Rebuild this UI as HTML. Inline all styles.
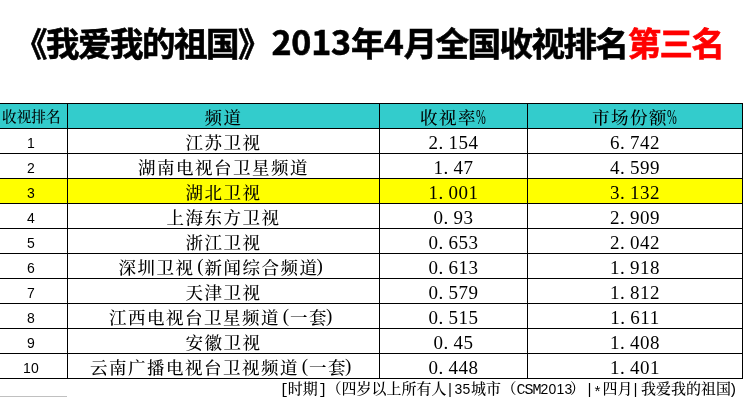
<!DOCTYPE html>
<html lang="zh-CN">
<head>
<meta charset="utf-8">
<title>《我爱我的祖国》2013年4月全国收视排名第三名</title>
<style>
html,body{margin:0;padding:0;background:#fff;}
body{width:747px;height:408px;position:relative;overflow:hidden;color:#000;
 font-family:"Liberation Serif","Noto Serif CJK SC",serif;}
.title{position:absolute;left:14px;top:21px;-webkit-text-stroke:0.6px currentColor;height:48px;line-height:48px;white-space:nowrap;
 font-family:"Liberation Sans","Noto Sans CJK SC",sans-serif;font-weight:bold;font-size:33.5px;letter-spacing:-1.5px;}
.title .n{font-family:"Noto Sans CJK SC",sans-serif;font-size:34px;letter-spacing:-0.2px;position:relative;top:-1px;line-height:0;}
.title .r{color:#f00;}
.grid{position:absolute;left:0;top:103px;width:743px;height:276px;}
.hl{position:absolute;left:0;width:743px;height:1px;background:#000;}
.vl{position:absolute;top:0;width:1px;height:276px;background:#000;}
.fill{position:absolute;left:0;width:742px;height:24px;}
.row{position:absolute;left:0;width:742px;height:24px;}
.c{position:absolute;top:0;height:24px;line-height:24px;text-align:center;white-space:nowrap;font-size:19px;}
.c1{left:-4.5px;width:71px;top:1.5px;font-size:14px;letter-spacing:0.2px;font-family:"Liberation Sans","Noto Serif CJK SC",sans-serif;}
.c2{left:68px;width:311px;}
.c3{left:380px;width:147px;letter-spacing:0.5px;}
.c4{left:528px;width:214px;letter-spacing:0.5px;}
.z{display:inline-block;font-size:17.5px;letter-spacing:1.5px;margin-left:0;transform:scaleY(0.96);transform-origin:50% 50%;position:relative;top:2.4px;font-weight:500;}
.c b.l{text-align:right;left:-1px;}
.c b.r{text-align:left;left:-2px;}
.p{display:inline-block;width:10px;text-align:left;transform:scale(0.62,1.08);transform-origin:0 50%;position:relative;top:2px;left:-0.7px;letter-spacing:0;}
.d{position:relative;top:2px;}
.c i{font-style:normal;display:inline-block;width:10px;text-align:left;letter-spacing:0;}
.c b{font-weight:normal;display:inline-block;width:10px;text-align:center;letter-spacing:0;font-size:19px;line-height:0;position:relative;top:-2px;}
.hd .c{font-family:"Liberation Serif","Noto Serif CJK SC",serif;letter-spacing:0;}
.hd .c1{font-size:14.67px;top:0.6px;left:-4.2px;font-weight:500;}
.foot{position:absolute;right:7.5px;top:381px;font-weight:500;height:20px;line-height:20px;font-size:15px;white-space:nowrap;
 font-family:"Liberation Mono","Noto Serif CJK SC",monospace;}
.foot span{letter-spacing:-1px;font-weight:400;line-height:0;position:relative;}
.foot u{text-decoration:none;position:relative;}
.foot .s{font-family:"Liberation Sans",sans-serif;font-size:14px;letter-spacing:0.2px;}
.foot .a{position:relative;top:3px;}
.foot .e{position:relative;left:-3px;}
.gl{position:absolute;left:0;top:396px;width:67px;height:1px;background:#c0c0c0;}
</style>
</head>
<body>
<div class="title">《我爱我的祖国》<span class="n" style="margin-left:1.5px">2013</span>年<span class="n" style="margin-left:0.8px">4</span>月全国收视排名<span class="r">第三名</span></div>
<div class="grid">
<div class="fill" style="top:1px;background:#33cccc"></div>
<div class="fill" style="top:76px;background:#ffff00"></div>
<div class="hl" style="top:0px"></div>
<div class="hl" style="top:25px"></div>
<div class="hl" style="top:50px"></div>
<div class="hl" style="top:75px"></div>
<div class="hl" style="top:100px"></div>
<div class="hl" style="top:125px"></div>
<div class="hl" style="top:150px"></div>
<div class="hl" style="top:175px"></div>
<div class="hl" style="top:200px"></div>
<div class="hl" style="top:225px"></div>
<div class="hl" style="top:250px"></div>
<div class="hl" style="top:275px"></div>
<div class="vl" style="left:67px"></div>
<div class="vl" style="left:379px"></div>
<div class="vl" style="left:527px"></div>
<div class="vl" style="left:742px"></div>
<div class="row hd" style="top:1px"><div class="c c1">收视排名</div><div class="c c2"><span class="z">频道</span></div><div class="c c3"><span class="z">收视率</span><span class="p">%</span></div><div class="c c4"><span class="z">市场份额</span><span class="p">%</span></div></div>
<div class="row" style="top:26px"><div class="c c1">1</div><div class="c c2"><span class="z">江苏卫视</span></div><div class="c c3"><span class="d">2<i>.</i>154</span></div><div class="c c4"><span class="d">6<i>.</i>742</span></div></div>
<div class="row" style="top:51px"><div class="c c1">2</div><div class="c c2"><span class="z">湖南电视台卫星频道</span></div><div class="c c3"><span class="d">1<i>.</i>47</span></div><div class="c c4"><span class="d">4<i>.</i>599</span></div></div>
<div class="row" style="top:76px"><div class="c c1">3</div><div class="c c2"><span class="z">湖北卫视</span></div><div class="c c3"><span class="d">1<i>.</i>001</span></div><div class="c c4"><span class="d">3<i>.</i>132</span></div></div>
<div class="row" style="top:101px"><div class="c c1">4</div><div class="c c2"><span class="z">上海东方卫视</span></div><div class="c c3"><span class="d">0<i>.</i>93</span></div><div class="c c4"><span class="d">2<i>.</i>909</span></div></div>
<div class="row" style="top:126px"><div class="c c1">5</div><div class="c c2"><span class="z">浙江卫视</span></div><div class="c c3"><span class="d">0<i>.</i>653</span></div><div class="c c4"><span class="d">2<i>.</i>042</span></div></div>
<div class="row" style="top:151px"><div class="c c1">6</div><div class="c c2"><span class="z">深圳卫视<b class="l">(</b>新闻综合频道<b class="r">)</b></span></div><div class="c c3"><span class="d">0<i>.</i>613</span></div><div class="c c4"><span class="d">1<i>.</i>918</span></div></div>
<div class="row" style="top:176px"><div class="c c1">7</div><div class="c c2"><span class="z">天津卫视</span></div><div class="c c3"><span class="d">0<i>.</i>579</span></div><div class="c c4"><span class="d">1<i>.</i>812</span></div></div>
<div class="row" style="top:201px"><div class="c c1">8</div><div class="c c2"><span class="z">江西电视台卫星频道<b class="l">(</b>一套<b class="r">)</b></span></div><div class="c c3"><span class="d">0<i>.</i>515</span></div><div class="c c4"><span class="d">1<i>.</i>611</span></div></div>
<div class="row" style="top:226px"><div class="c c1">9</div><div class="c c2"><span class="z">安徽卫视</span></div><div class="c c3"><span class="d">0<i>.</i>45</span></div><div class="c c4"><span class="d">1<i>.</i>408</span></div></div>
<div class="row" style="top:251px"><div class="c c1">10</div><div class="c c2"><span class="z">云南广播电视台卫视频道<b class="l">(</b>一套<b class="r">)</b></span></div><div class="c c3"><span class="d">0<i>.</i>448</span></div><div class="c c4"><span class="d">1<i>.</i>401</span></div></div>
</div>
<div class="foot"><span style="left:-1.5px">[</span><u style="left:-1.5px">时期</u><span style="left:-1px">]</span><u style="left:-1px">（四岁以上所有人</u><span style="left:-2px">|</span><span class="s" style="left:-1px">35</span><u style="left:-0.5px">城市</u>（<span>CSM</span><span class="s">2013</span><u style="left:-2.5px">）</u><span style="left:-2.5px">|</span><span class="a" style="left:-2.5px">*</span><u style="left:-1px">四月</u><span style="left:-2.5px">|</span><u style="left:-0.5px">我爱我的祖国</u><span class="e">)</span></div>
<div class="gl"></div>
</body>
</html>
